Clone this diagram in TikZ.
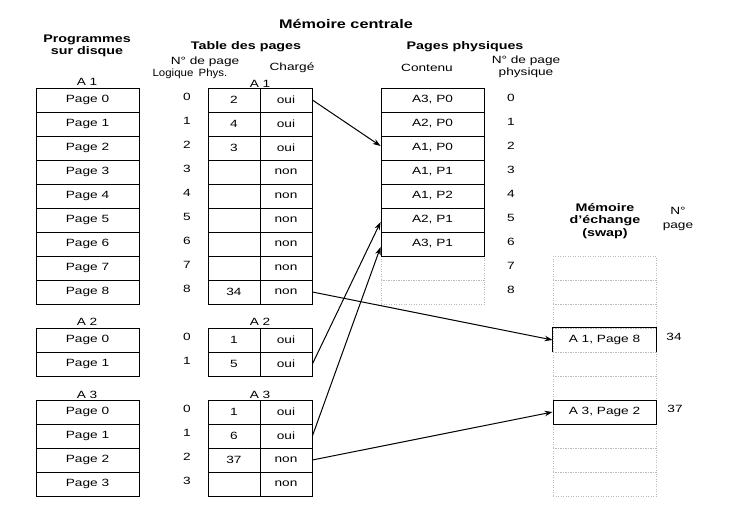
\documentclass[tikz,border=0pt]{standalone}
\usepackage{fontspec}
\usepackage{graphicx}
\setmainfont{Liberation Sans}[FakeStretch=1.3]
\usetikzlibrary{arrows.meta}
\newcommand\fsN{\fontsize{10.5}{12}\selectfont}
\newcommand\fsH{\fontsize{11}{12.6}\selectfont\bfseries}
\newcommand\fsT{\fontsize{12.5}{14}\selectfont\bfseries}
\begin{document}
\begin{tikzpicture}[x=1pt,y=-1pt,
 wide/.style={draw, line width=0.8pt, minimum width=103pt, minimum height=24pt, inner sep=0pt, font=\fsN},
 narrow/.style={wide, minimum width=52pt},
 ghost/.style={draw=gray!55, dotted, line width=0.5pt, minimum width=103pt, minimum height=24pt, inner sep=0pt},
 lbl/.style={font=\fsN, inner sep=0pt},
 head/.style={font=\fsH, align=center, inner sep=0pt},
 arr/.style={line width=1pt, -{Stealth[length=8pt,width=5.5pt]}}
]
\useasboundingbox (0,0) rectangle (732,511);

% headings
\node[font=\fsT, inner sep=0pt] (title) at (346,24) {Mémoire centrale};
\node[head] (hprog) at (87,46) {Programmes\\sur disque};
\node[head] (htable) at (246,47) {Table des pages};
\node[lbl] (hnpage) at (205,62) {N° de page};
\node[lbl] (hlog) at (173,74) {\scalebox{0.84}[1]{Logique}};
\node[lbl] (hphys) at (213,74) {\scalebox{0.84}[1]{Phys.}};
\node[lbl] (hcharge) at (292,68) {Chargé};
\node[head] (hpages) at (465,47) {Pages physiques};
\node[lbl] (hcont) at (427,68) {Contenu};
\node[lbl, align=center, font=\fontsize{10.5}{11.5}\selectfont] (hnphys) at (526,67) {N° de page\\physique};
\node[head] (hswap) at (605,221) {Mémoire\\d'échange\\(swap)};
\node[lbl, align=center, font=\fontsize{10.5}{14.5}\selectfont] (hnp) at (678,219) {N°\\page};

% program labels
\node[lbl] (la1) at (87,82) {A 1};
\node[lbl] (ta1) at (260,84) {A 1};
\node[lbl] (la2) at (87,322) {A 2};
\node[lbl] (ta2) at (260,322) {A 2};
\node[lbl] (la3) at (87,395) {A 3};
\node[lbl] (ta3) at (260,395) {A 3};

% A1
\foreach \i in {0,...,8} {
  \node[wide] (p1\i) at (87.5,{100+24*\i}) {Page \i};
  \node[lbl] (l1\i) at (187,{97+24*\i}) {\i};
}
\foreach \i/\v/\c in {0/2/oui,1/4/oui,2/3/oui,3//non,4//non,5//non,6//non,7//non,8/34/non} {
  \node[narrow] (t1p\i) at (234,{100+24*\i}) {\v};
  \node[narrow] (t1c\i) at (286,{100+24*\i}) {\c};
}
% A2
\foreach \i in {0,1} {
  \node[wide] (p2\i) at (87.5,{340+24*\i}) {Page \i};
  \node[lbl] (l2\i) at (187,{337+24*\i}) {\i};
}
\foreach \i/\v/\c in {0/1/oui,1/5/oui} {
  \node[narrow] (t2p\i) at (234,{340+24*\i}) {\v};
  \node[narrow] (t2c\i) at (286,{340+24*\i}) {\c};
}
% A3
\foreach \i in {0,...,3} {
  \node[wide] (p3\i) at (87.5,{412+24*\i}) {Page \i};
  \node[lbl] (l3\i) at (187,{409+24*\i}) {\i};
}
\foreach \i/\v/\c in {0/1/oui,1/6/oui,2/37/non,3//non} {
  \node[narrow] (t3p\i) at (234,{412+24*\i}) {\v};
  \node[narrow] (t3c\i) at (286,{412+24*\i}) {\c};
}

% physical pages
\node[ghost] (ph7) at (432.5,268) {};
\node[ghost] (ph8) at (432.5,292) {};
\node[wide] (ph0) at (432.5,100) {A3, P0};
\node[wide] (ph1) at (432.5,124) {A2, P0};
\node[wide] (ph2) at (432.5,148) {A1, P0};
\node[wide] (ph3) at (432.5,172) {A1, P1};
\node[wide] (ph4) at (432.5,196) {A1, P2};
\node[wide] (ph5) at (432.5,220) {A2, P1};
\node[wide] (ph6) at (432.5,244) {A3, P1};
\foreach \i in {0,...,8} \node[lbl] (n\i) at (511,{98+24*\i}) {\i};

% swap
\foreach \j in {0,...,9} \node[ghost] (sg\j) at (604.5,{268+24*\j}) {};
\node[wide, draw=none] (sw3) at (604.5,340) {A 1, Page 8};
\draw[line width=0.8pt] (sw3.south west) |- (sw3.north east) -- (sw3.south east);
\node[wide] (sw6) at (604.5,412) {A 3, Page 2};
\node[lbl] (s34) at (674,337) {34};
\node[lbl] (s37) at (675,409) {37};

% arrows
\draw[arr] (t1c0.east) -- ([yshift=2pt]ph2.west);
\draw[arr] (t1c8.east) -- (sw3.west);
\draw[arr] (t2c1.east) -- ([yshift=-2pt]ph5.west);
\draw[arr] (t3c1.east) -- ([yshift=-3pt]ph6.west);
\draw[arr] (t3c2.east) -- (sw6.west);
\end{tikzpicture}
\end{document}
